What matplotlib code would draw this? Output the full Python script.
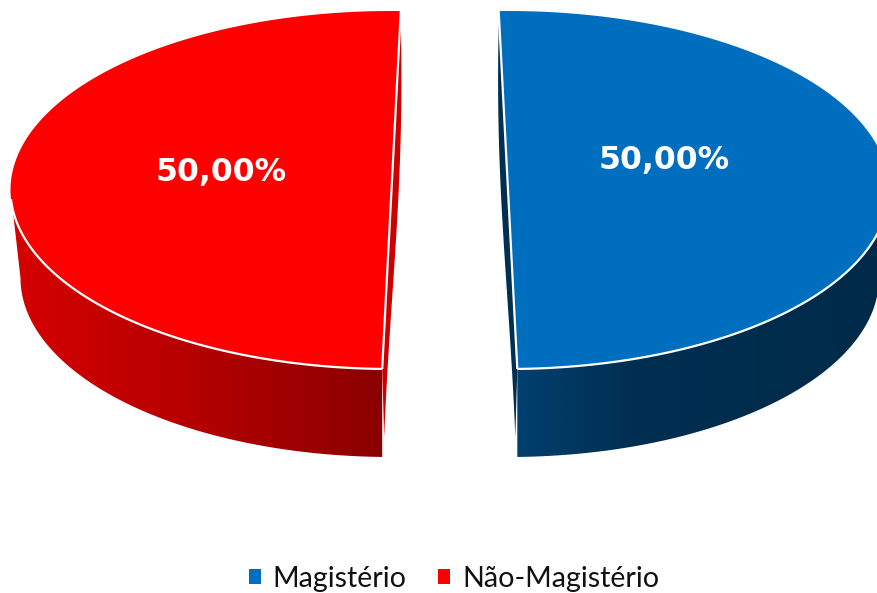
import numpy as np
import matplotlib
matplotlib.use('Agg')
import matplotlib.pyplot as plt
from matplotlib.patches import Polygon, Patch

# DATA
categories = ['Magistério', 'Não-Magistério']
values = [50.0, 50.0]
labels = ['50,00%', '50,00%']
colors = ['#006EBF', '#FF0000']
wall_stops = [['#00406F', '#002F52', '#002A48'], ['#D60000', '#B40000', '#8A0000']]
wall_mid = [.3, .5]
sliver_colors = ['#002F52', '#CC0000']

# GEOMETRY (pixels)
cx = [508., 391.5]
cy_top = 190.
cy_low = 278.
a_top, b_top = 381., 179.
a_low, b_low = 371., 179.
start_deg = [91.4, 88.6]
turn = [-1., 1.]    # blue goes clockwise, red the other way
label_xy = [(664, 161), (221, 173)]


def ell(x0, y0, a, b, t_deg):
    t = np.radians(t_deg)
    return np.c_[x0 + a * np.cos(t), y0 - b * np.sin(t)]


def hex2rgb(c):
    return np.array(matplotlib.colors.to_rgb(c))


# ----------------------------------------------------------------
fig = plt.figure(figsize=(8.77, 5.93), dpi=100)
ax = fig.add_axes([0, 0, 1, 1])
ax.axis('off')

total = sum(values)
for i in range(len(values)):
    span = 360. * values[i] / total
    t0 = start_deg[i]
    t1 = t0 + turn[i] * span
    x0 = cx[i]
    arc = np.linspace(t0, t1, 200)
    top = ell(x0, cy_top, a_top, b_top, arc)
    p_a, p_b = top[0], top[-1]

    # WALL: front part of the rim, from the bottom point to the widest point
    rim = np.linspace(t1, t1 - turn[i] * (span / 2. - abs(90. - t0)), 120)
    upper = ell(x0, cy_top, a_top, b_top, rim)
    lower = ell(x0, cy_low, a_low, b_low, rim)
    lower[0, 0] = upper[0, 0]
    wall = Polygon(np.r_[upper, lower[::-1]], closed=True, fc='none', ec='none')
    ax.add_patch(wall)
    xs = np.linspace(0, 1, 256)
    stops = np.array([hex2rgb(c) for c in wall_stops[i]])
    grad = np.stack([np.interp(xs, [0, wall_mid[i], 1], stops[:, k]) for k in range(3)], axis=-1)[np.newaxis, :, :]
    x_min, x_max = min(upper[:, 0].min(), lower[:, 0].min()), max(upper[:, 0].max(), lower[:, 0].max())
    im = ax.imshow(grad, extent=(x_min, x_max, 460, 150), aspect='auto', zorder=2)
    im.set_clip_path(wall)

    # INNER SLIVER along the cut
    s = np.linspace(0, 1, 60)
    tip = p_b + np.array([2. * turn[i], 68.])
    head = p_a + np.array([0., 14.])
    edge = head[np.newaxis, :] * (1 - s)[:, np.newaxis] + tip[np.newaxis, :] * s[:, np.newaxis]
    edge[:, 0] += turn[i] * 8. * np.sin(np.pi * s) * (1 - s)
    cut_y = np.linspace(edge[0, 1], p_b[1], 60)
    cut_x = np.interp(cut_y, [p_a[1], p_b[1]], [p_a[0], p_b[0]])
    sliver = np.r_[edge, np.c_[cut_x, cut_y][::-1]]
    ax.fill(sliver[:, 0], sliver[:, 1], fc=sliver_colors[i], ec='none', zorder=2)

    # TOP FACE
    ax.add_patch(Polygon(top, closed=True, fc=colors[i], ec='none', zorder=3))
    ax.plot(upper[:-4, 0], upper[:-4, 1], color='white', lw=1.6, solid_capstyle='butt', zorder=4)
    ax.plot([p_a[0], p_b[0]], [p_a[1], p_b[1]], color='white', lw=1.6, solid_capstyle='butt', zorder=4)

    ax.text(label_xy[i][0], label_xy[i][1], labels[i], color='white', fontsize=22.7, fontweight='bold',
            ha='center', va='center', family='DejaVu Sans', zorder=5)

ax.set_xlim(0, 877)
ax.set_ylim(593, 0)

handles = [Patch(fc=colors[i], ec='none', label=categories[i]) for i in range(len(categories))]
ax.legend(handles=handles, loc='center', bbox_to_anchor=(454. / 877, 1 - 579. / 593), ncol=2, frameon=False,
          prop={'family': 'Lato', 'size': 20.6}, handlelength=0.42, handleheight=0.42, handletextpad=0.42,
          columnspacing=1.1, borderpad=0, labelcolor='#111111')

fig.savefig('out.png', dpi=100)
